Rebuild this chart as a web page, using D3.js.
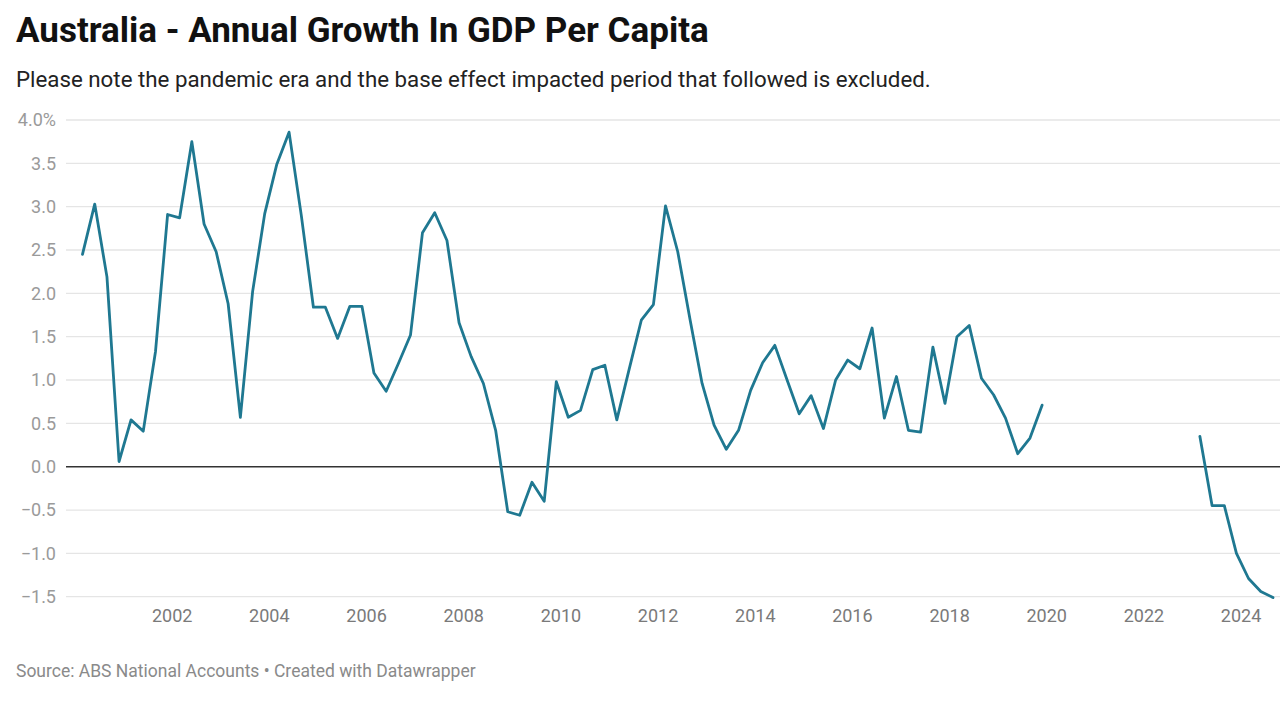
<!DOCTYPE html>
<html>
<head>
<meta charset="utf-8">
<script src="https://cdn.jsdelivr.net/npm/d3@7"></script>
<style>
  html, body { margin: 0; padding: 0; background: #fff; }
  svg { display: block; font-family: Roboto, "Noto Sans", sans-serif; }
</style>
</head>
<body>
<svg id="chart" width="1280" height="720"></svg>
<script>
// ---- data ----
const title = "Australia - Annual Growth In GDP Per Capita";
const subtitle = "Please note the pandemic era and the base effect impacted period that followed is excluded.";
const source = "Source: ABS National Accounts • Created with Datawrapper";

const periods1 = [
  "2000-03","2000-06","2000-09","2000-12",
  "2001-03","2001-06","2001-09","2001-12",
  "2002-03","2002-06","2002-09","2002-12",
  "2003-03","2003-06","2003-09","2003-12",
  "2004-03","2004-06","2004-09","2004-12",
  "2005-03","2005-06","2005-09","2005-12",
  "2006-03","2006-06","2006-09","2006-12",
  "2007-03","2007-06","2007-09","2007-12",
  "2008-03","2008-06","2008-09","2008-12",
  "2009-03","2009-06","2009-09","2009-12",
  "2010-03","2010-06","2010-09","2010-12",
  "2011-03","2011-06","2011-09","2011-12",
  "2012-03","2012-06","2012-09","2012-12",
  "2013-03","2013-06","2013-09","2013-12",
  "2014-03","2014-06","2014-09","2014-12",
  "2015-03","2015-06","2015-09","2015-12",
  "2016-03","2016-06","2016-09","2016-12",
  "2017-03","2017-06","2017-09","2017-12",
  "2018-03","2018-06","2018-09","2018-12",
  "2019-03","2019-06","2019-09","2019-12"
];
const growth1 = [
  2.45, 3.03, 2.19, 0.06,
  0.54, 0.41, 1.33, 2.91,
  2.87, 3.75, 2.80, 2.48,
  1.88, 0.57, 2.02, 2.92,
  3.49, 3.86, 2.90, 1.84,
  1.84, 1.48, 1.85, 1.85,
  1.08, 0.87, 1.19, 1.52,
  2.70, 2.93, 2.61, 1.66,
  1.27, 0.96, 0.42, -0.52,
  -0.56, -0.18, -0.40, 0.98,
  0.57, 0.65, 1.12, 1.17,
  0.54, 1.12, 1.69, 1.87,
  3.01, 2.48, 1.70, 0.96,
  0.48, 0.20, 0.42, 0.88,
  1.20, 1.40, 1.00, 0.61,
  0.82, 0.44, 1.00, 1.23,
  1.13, 1.60, 0.56, 1.04,
  0.42, 0.40, 1.38, 0.73,
  1.50, 1.63, 1.02, 0.83,
  0.56, 0.15, 0.33, 0.71
];
const periods2 = ["2023-03","2023-06","2023-09","2023-12","2024-03","2024-06","2024-09"];
const growth2 = [0.35, -0.45, -0.45, -1.00, -1.29, -1.44, -1.51];

const yTicks = [-1.5, -1.0, -0.5, 0.0, 0.5, 1.0, 1.5, 2.0, 2.5, 3.0, 3.5, 4.0];
const xTickYears = [2002, 2004, 2006, 2008, 2010, 2012, 2014, 2016, 2018, 2020, 2022, 2024];

// ---- layout ----
const svg = d3.select("#chart");
const parse = d3.timeParse("%Y-%m");
const gridLeft = 66, gridRight = 1280;

const x = d3.scaleTime()
  .domain([new Date(2000, 0, 1), new Date(2025, 0, 1)])
  .range([74.5, 74.5 + 25 * 48.59]);
const y = d3.scaleLinear().domain([-1.5, 4.0]).range([596.7, 120]);

// title / subtitle
svg.append("text").attr("x", 16).attr("y", 42)
  .attr("font-size", 35).attr("font-weight", 700).attr("fill", "#111")
  .text(title);
svg.append("text").attr("x", 16).attr("y", 87)
  .attr("font-size", 22.3).attr("fill", "#222")
  .text(subtitle);

// gridlines + y labels
const yAxis = d3.axisLeft(y).tickValues(yTicks).tickSize(0)
  .tickFormat(d => d === 4 ? "4.0%" : d3.format(".1f")(d).replace("-", "\u2212"));
const gy = svg.append("g").attr("transform", `translate(${gridLeft - 7},0)`).call(yAxis);
gy.select(".domain").remove();
gy.selectAll("text").attr("font-size", 18).attr("fill", "#9a9a9a")
  .attr("font-family", "Roboto, sans-serif");

svg.append("g").selectAll("line").data(yTicks.filter(d => d !== 0)).join("line")
  .attr("x1", gridLeft).attr("x2", gridRight)
  .attr("y1", d => y(d)).attr("y2", d => y(d))
  .attr("stroke", "#e5e5e5").attr("stroke-width", 1.3);

// x axis labels
const xAxis = d3.axisBottom(x).tickValues(xTickYears.map(yr => new Date(yr, 0, 1)))
  .tickSize(0).tickFormat(d3.timeFormat("%Y"));
const gx = svg.append("g").attr("transform", `translate(0,${596.7 + 10})`).call(xAxis);
gx.select(".domain").remove();
gx.selectAll("text").attr("font-size", 18).attr("fill", "#7a7a7a")
  .attr("font-family", "Roboto, sans-serif");

// zero baseline
svg.append("line").attr("x1", gridLeft).attr("x2", gridRight)
  .attr("y1", y(0)).attr("y2", y(0))
  .attr("stroke", "#333").attr("stroke-width", 1.5);

// lines
const line = d3.line().x(d => x(d.date)).y(d => y(d.value));
const series = [
  periods1.map((p, i) => ({ date: parse(p), value: growth1[i] })),
  periods2.map((p, i) => ({ date: parse(p), value: growth2[i] }))
];
svg.append("g").selectAll("path").data(series).join("path")
  .attr("d", line)
  .attr("fill", "none")
  .attr("stroke", "#1f7891")
  .attr("stroke-width", 2.8)
  .attr("stroke-linejoin", "round")
  .attr("stroke-linecap", "round");

// source
svg.append("text").attr("x", 16).attr("y", 677)
  .attr("font-size", 17.5).attr("fill", "#8a8a8a")
  .text(source);
</script>
</body>
</html>
